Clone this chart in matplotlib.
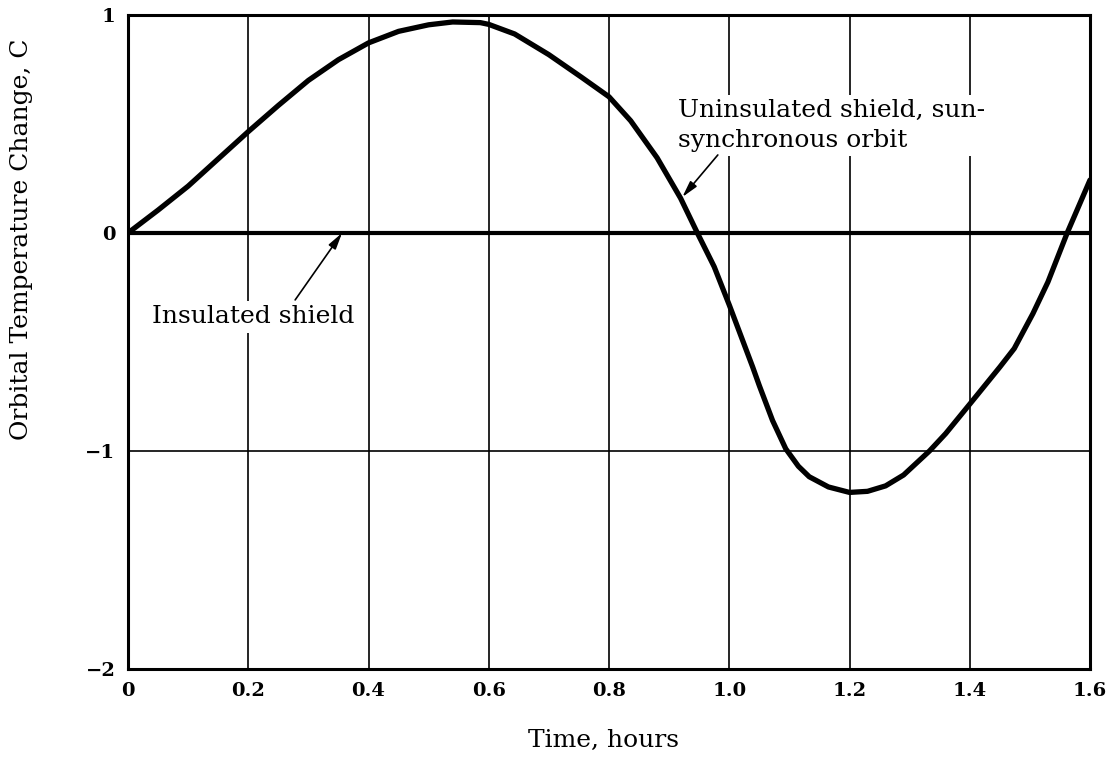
import matplotlib
matplotlib.use("Agg")
import matplotlib.pyplot as plt

# uninsulated shield, sun-synchronous orbit
time_h = [0.0, 0.05, 0.1, 0.15, 0.2, 0.25, 0.3, 0.35, 0.4, 0.45, 0.5, 0.54,
          0.586, 0.6, 0.643, 0.7, 0.754, 0.8, 0.836, 0.88, 0.919, 0.947,
          0.975, 1.0, 1.039, 1.05, 1.072, 1.094, 1.115, 1.133, 1.165, 1.2,
          1.23, 1.26, 1.29, 1.333, 1.36, 1.4, 1.45, 1.474, 1.505, 1.53,
          1.562, 1.6]
delta_c = [0.0, 0.105, 0.215, 0.34, 0.465, 0.585, 0.70, 0.795, 0.872, 0.925,
           0.955, 0.968, 0.965, 0.957, 0.913, 0.818, 0.715, 0.625, 0.515,
           0.345, 0.16, 0.0, -0.155, -0.33, -0.615, -0.70, -0.86, -0.99,
           -1.07, -1.118, -1.165, -1.19, -1.185, -1.16, -1.11, -1.0, -0.92,
           -0.785, -0.615, -0.53, -0.37, -0.225, 0.0, 0.243]

# insulated shield stays flat
insulated_t = [0.0, 1.6]
insulated_c = [0.0, 0.0]

x_ticks = [0, 0.2, 0.4, 0.6, 0.8, 1.0, 1.2, 1.4, 1.6]
x_labels = ["0", "0.2", "0.4", "0.6", "0.8", "1.0", "1.2", "1.4", "1.6"]
y_ticks = [-2, -1, 0, 1]
y_labels = ["\u22122", "\u22121", "0", "1"]

SERIF = "DejaVu Serif"

fig = plt.figure(figsize=(11.18, 7.63), dpi=100)
ax = fig.add_axes([128 / 1118, 1 - 669 / 763, (1090 - 128) / 1118, (669 - 15) / 763])

ax.set_xlim(0, 1.6)
ax.set_ylim(-2, 1)
ax.set_xticks(x_ticks)
ax.set_xticklabels(x_labels, family=SERIF, fontsize=14, fontweight="bold")
ax.set_yticks(y_ticks)
ax.set_yticklabels(y_labels, family=SERIF, fontsize=14, fontweight="bold")
ax.tick_params(length=0, pad=9)
ax.grid(True, color="black", linewidth=1.2)
ax.set_axisbelow(True)
for spine in ax.spines.values():
    spine.set_linewidth(2.2)

ax.plot(insulated_t, insulated_c, color="black", linewidth=3.0, zorder=3)
ax.plot(time_h, delta_c, color="black", linewidth=3.8,
        solid_joinstyle="round", solid_capstyle="round", zorder=4)

box = dict(facecolor="white", edgecolor="none", pad=3)
arrow = dict(arrowstyle="-|>,head_length=0.7,head_width=0.18", color="black",
             lw=1.2, mutation_scale=14, shrinkA=0, shrinkB=0)

ax.text(0.208, -0.385, "Insulated shield", family=SERIF, fontsize=18,
        ha="center", va="center", bbox=box, zorder=5)
ax.annotate("", xy=(0.356, 0.0), xytext=(0.278, -0.307), arrowprops=arrow,
            zorder=5)

ax.text(0.915, 0.493, "Uninsulated shield, sun-\nsynchronous orbit",
        family=SERIF, fontsize=18, ha="left", va="center", linespacing=1.35,
        bbox=box, zorder=5)
ax.annotate("", xy=(0.922, 0.165), xytext=(0.981, 0.358), arrowprops=arrow,
            zorder=5)

fig.text(22 / 1118, 1 - 38 / 763, "Orbital Temperature Change, C",
         family=SERIF, fontsize=18, rotation=90, ha="center", va="top")
fig.text(604 / 1118, 1 - 740 / 763, "Time, hours",
         family=SERIF, fontsize=18, ha="center", va="center")

fig.savefig("out.png", dpi=100)
plt.close(fig)
